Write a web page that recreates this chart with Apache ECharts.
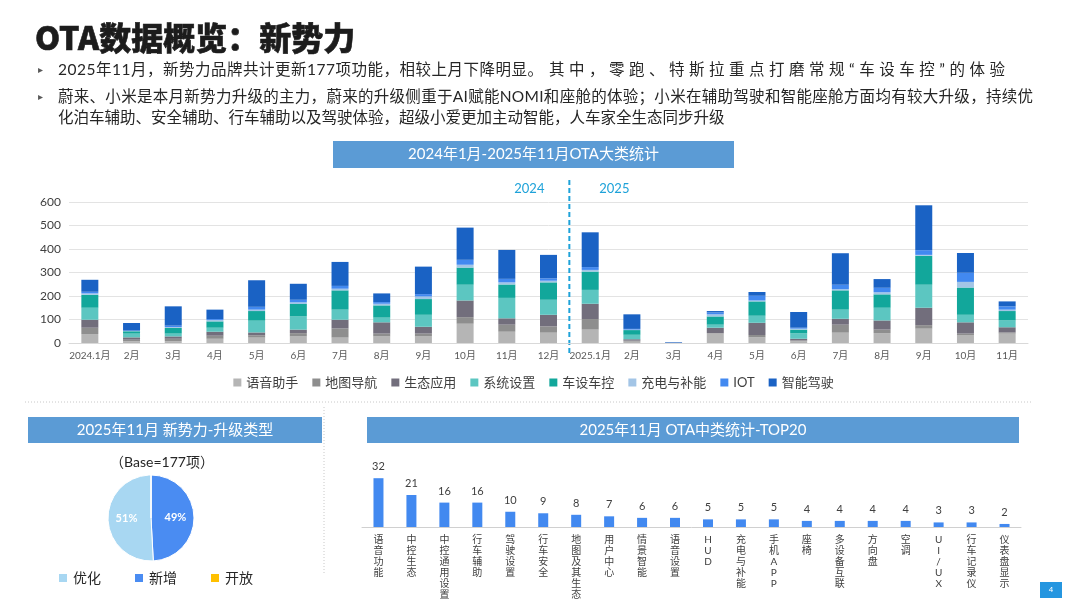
<!DOCTYPE html>
<html><head><meta charset="utf-8">
<script src="https://cdn.jsdelivr.net/npm/echarts@6/dist/echarts.min.js"></script>
<style>html,body{margin:0;padding:0;background:#fff}#c{width:1067px;height:600px}</style>
</head><body><div id="c"></div>
<script>
const FONT = 'Lato, "Noto Sans CJK SC", sans-serif';
const months = ['2024.1月','2月','3月','4月','5月','6月','7月','8月','9月','10月','11月','12月',
                '2025.1月','2月','3月','4月','5月','6月','7月','8月','9月','10月','11月'];
const seriesNames = ['语音助手','地图导航','生态应用','系统设置','车设车控','充电与补能','IOT','智能驾驶'];
const voice  = [38,8,8,18,23,28,23,28,28,82,48,44, 57,6,0,40,24,8,44,42,61,34,40];
const mapNav = [27,6,10,13,10,14,39,12,12,28,30,27, 45,4,0,2,10,3,34,15,15,6,5];
const eco    = [34,10,10,17,12,15,37,48,29,71,27,49, 65,6,1,23,52,7,25,39,74,48,22];
const sysSet = [51,16,12,17,50,56,43,20,51,67,87,64, 59,19,0,13,30,23,39,54,98,32,29];
const ctrl   = [55,10,24,27,41,53,82,52,67,73,57,74, 78,20,0,35,61,16,82,57,123,116,40];
const charge = [6,1,4,6,6,7,7,7,11,12,9,7, 7,2,0,9,4,4,5,9,4,24,6];
const iot    = [7,2,6,4,12,11,12,7,10,21,15,10, 12,3,1,8,20,4,19,19,20,39,14];
const adas   = [51,32,82,40,113,68,102,37,117,137,123,100, 148,62,2,6,16,67,134,37,191,84,21];
const stackColors = ['#b5b5b5','#8e8e8e','#726e7c','#5cc6c1','#12a79b','#a3c5e6','#4289f0','#1a62c4'];

const topCats = ['语音功能','中控生态','中控通用设置','行车辅助','驾驶设置','行车安全','地图及其生态','用户中心','情景智能','语音设置','HUD','充电与补能','手机APP','座椅','多设备互联','方向盘','空调','UI/UX','行车记录仪','仪表盘显示'];
const topVals = [32,21,16,16,10,9,8,7,6,6,5,5,5,4,4,4,4,3,3,2];

const pieNames = ['新增','优化','开放'];
const pieVals = [87,90,0];
const pieColors = ['#4a8cf2','#a8d7f2','#ffc000'];

const yTicks = {min:0, max:600, interval:100};

const stackData = [voice,mapNav,eco,sysSet,ctrl,charge,iot,adas];
const chart = echarts.init(document.getElementById('c'));

const series = stackData.map((d,i)=>({
  name: seriesNames[i], type:'bar', stack:'all', xAxisIndex:0, yAxisIndex:0,
  data:d, barWidth:17, itemStyle:{color:stackColors[i]}
}));
series.push({
  name:'top20', type:'bar', xAxisIndex:1, yAxisIndex:1, data:topVals, barWidth:10,
  itemStyle:{color:'#4289f0'},
  label:{show:true, position:'top', distance:6, fontSize:11, color:'#404040', fontFamily:FONT}
});
series.push({
  name:'pie', type:'pie', center:[151,518], radius:43, startAngle:90, clockwise:true,
  data: pieNames.map((n,i)=>({name:n, value:pieVals[i], itemStyle:{color:pieColors[i]}})),
  itemStyle:{borderColor:'#fff', borderWidth:1},
  label:{show:true, position:'inside', color:'#fff', fontSize:11, fontWeight:'bold', fontFamily:FONT,
    formatter: p => p.value ? Math.round(p.percent)+'%' : ''},
  labelLine:{show:false}, emphasis:{disabled:true}
});

chart.setOption({
  animation:false,
  textStyle:{fontFamily:FONT},
  grid:[
    {left:69, right:39, top:202, bottom:257},
    {left:362, right:46, top:466, bottom:73}
  ],
  xAxis:[
    {type:'category', gridIndex:0, data:months, axisTick:{show:false},
     axisLine:{lineStyle:{color:'#d9d9d9'}},
     axisLabel:{interval:0, fontSize:10, color:'#595959', margin:8, fontFamily:FONT}},
    {type:'category', gridIndex:1, data:topCats, axisTick:{show:false},
     axisLine:{lineStyle:{color:'#d0d0d0'}},
     axisLabel:{interval:0, fontSize:10, lineHeight:11, color:'#404040', margin:7, fontFamily:FONT,
       formatter: v => v.split('').join('\n')}}
  ],
  yAxis:[
    {type:'value', gridIndex:0, min:yTicks.min, max:yTicks.max, interval:yTicks.interval,
     axisLine:{show:false}, axisTick:{show:false},
     axisLabel:{fontSize:12, color:'#404040', margin:8, fontFamily:FONT},
     splitLine:{lineStyle:{color:'#e3e3e3'}}},
    {type:'value', gridIndex:1, min:0, max:40, show:false, splitLine:{show:false}}
  ],
  legend:[
    {data:seriesNames, left:'center', top:371, icon:'rect', itemWidth:8, itemHeight:8, itemGap:14,
     textStyle:{fontSize:13, color:'#404040', fontFamily:FONT}},
    {data:['优化','新增','开放'], left:52, top:566, icon:'rect', itemWidth:10, itemHeight:10, itemGap:32,
     textStyle:{fontSize:14, color:'#262626', fontFamily:FONT}}
  ],
  series
});

// decorations positioned relative to axis
const x11 = chart.convertToPixel({xAxisIndex:0}, 11);
const x12 = chart.convertToPixel({xAxisIndex:0}, 12);
const divX = (x11+x12)/2;

const TXT_SIZE = 15.5;
const bulletStyle = {fill:'#262626', fontSize:TXT_SIZE, fontFamily:FONT};
const line1a = '2025年11月，新势力品牌共计更新177项功能，相较上月下降明显。';
const line1b = '其中，零跑、特斯拉重点打磨常规“车设车控”的体验';
const line2 = '蔚来、小米是本月新势力升级的主力，蔚来的升级侧重于AI赋能NOMI和座舱的体验；小米在辅助驾驶和智能座舱方面均有较大升级，持续优';
const line3 = '化泊车辅助、安全辅助、行车辅助以及驾驶体验，超级小爱更加主动智能，人车家全生态同步升级';

// justified (distributed) text layout like the slide's paragraph alignment
const mctx = document.createElement('canvas').getContext('2d');
mctx.font = 'normal normal ' + TXT_SIZE + 'px ' + FONT;
function distributed(str, x0, x1, y){
  const chars = Array.from(str);
  const ws = chars.map(c => mctx.measureText(c).width);
  const nat = ws.reduce((a,b)=>a+b,0);
  const s = Math.max(0, (x1 - x0 - nat) / (chars.length - 1));
  let x = x0;
  return chars.map((c,i)=>{
    const el = {type:'text', x:x, y:y, style:Object.assign({text:c}, bulletStyle)};
    x += ws[i] + s;
    return el;
  });
}

const barTitle = (x,y,w,h,txt)=>[
  {type:'rect', shape:{x,y,width:w,height:h}, style:{fill:'#5b9bd5'}},
  {type:'text', x:x+w/2, y:y+h/2, style:{text:txt, fill:'#fff', fontSize:15, fontFamily:FONT, align:'center', verticalAlign:'middle'}}
];

chart.setOption({graphic:[
  {type:'text', x:35, y:22, style:{text:'OTA数据概览：新势力', fill:'#1c1c1c', fontSize:32, fontWeight:900,
     fontFamily:'"Noto Sans CJK SC", sans-serif', stroke:'#1c1c1c', lineWidth:0.6}},
  {type:'text', x:38, y:65, style:{text:'▸', fill:'#595959', fontSize:10}},
  {type:'text', x:38, y:92, style:{text:'▸', fill:'#595959', fontSize:10}},
  ...distributed(line1a, 58, 543, 62),
  ...distributed(line1b, 549, 1005, 62),
  ...distributed(line2, 58, 1033, 89),
  {type:'text', x:58, y:110, style:Object.assign({text:line3}, bulletStyle)},
  ...barTitle(333,141,401,27,'2024年1月-2025年11月OTA大类统计'),
  ...barTitle(28,417,294,26,'2025年11月 新势力-升级类型'),
  ...barTitle(367,417,652,26,'2025年11月 OTA中类统计-TOP20'),
  {type:'line', shape:{x1:divX, y1:180, x2:divX, y2:356}, style:{stroke:'#1ea2d9', lineWidth:2, lineDash:[5,3]}},
  {type:'text', x:divX-40, y:189, style:{text:'2024', fill:'#1ea2d9', fontSize:13, fontFamily:FONT, align:'center', verticalAlign:'middle'}},
  {type:'text', x:divX+45, y:189, style:{text:'2025', fill:'#1ea2d9', fontSize:13, fontFamily:FONT, align:'center', verticalAlign:'middle'}},
  {type:'line', shape:{x1:25, y1:402, x2:1032, y2:402}, style:{stroke:'#c8c8c8', lineWidth:1, lineDash:[1,2]}},
  {type:'line', shape:{x1:324, y1:407, x2:324, y2:575}, style:{stroke:'#c8c8c8', lineWidth:1, lineDash:[1,2]}},
  {type:'text', x:162, y:462, style:{text:'（Base=177项）', fill:'#262626', fontSize:14, fontFamily:FONT, align:'center', verticalAlign:'middle'}},
  {type:'rect', shape:{x:1040,y:582,width:22,height:16}, style:{fill:'#2596e0'}},
  {type:'text', x:1051, y:590, style:{text:'4', fill:'#fff', fontSize:8, align:'center', verticalAlign:'middle'}}
]});
</script>
</body></html>
